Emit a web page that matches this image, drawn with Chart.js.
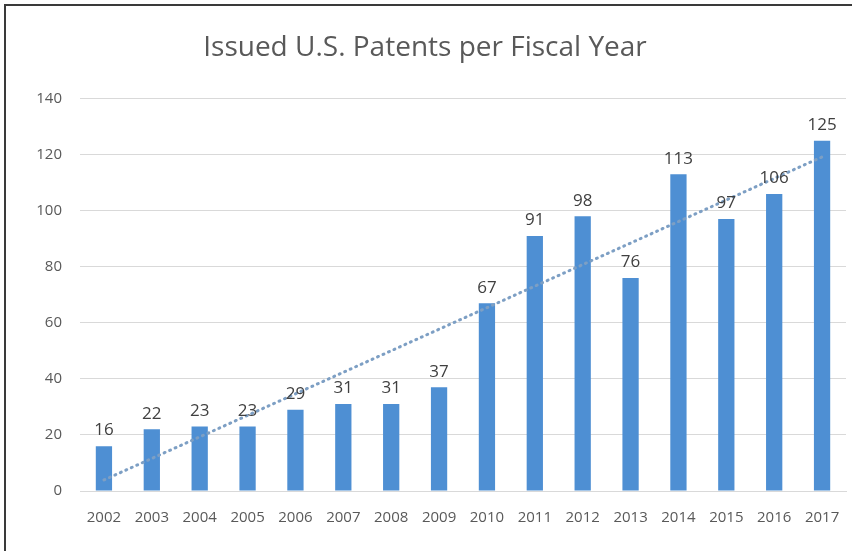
<!DOCTYPE html>
<html>
<head>
<meta charset="utf-8">
<title>Issued U.S. Patents per Fiscal Year</title>
<script src="https://cdn.jsdelivr.net/npm/chart.js@4/dist/chart.umd.min.js"></script>
<style>
  html, body { margin: 0; padding: 0; background: #fff; }
  #wrap { width: 852px; height: 551px; }
</style>
</head>
<body>
<div id="wrap"><canvas id="patentChart" width="852" height="551"></canvas></div>
<script>
const years = ['2002', '2003', '2004', '2005', '2006', '2007', '2008', '2009',
               '2010', '2011', '2012', '2013', '2014', '2015', '2016', '2017'];
const patents = [16, 22, 23, 23, 29, 31, 31, 37, 67, 91, 98, 76, 113, 97, 106, 125];
const yTicks = [0, 20, 40, 60, 80, 100, 120, 140];

// least squares trend line over the yearly counts
const linearTrend = (values) => {
    const n = values.length;
    const mx = (n - 1) / 2;
    const my = values.reduce((a, b) => a + b, 0) / n;
    let sxy = 0, sxx = 0;
    values.forEach((v, i) => {
        sxy += (i - mx) * (v - my);
        sxx += (i - mx) * (i - mx);
    });
    const slope = sxy / sxx;
    return values.map((_, i) => my + slope * (i - mx));
};

// value labels above each bar
const barLabels = {
    id: 'barLabels',
    afterDatasetsDraw(chart) {
        const ctx = chart.ctx;
        const meta = chart.getDatasetMeta(1);
        ctx.save();
        ctx.font = '17px "Open Sans", sans-serif';
        ctx.fillStyle = '#404040';
        ctx.textAlign = 'center';
        ctx.textBaseline = 'bottom';
        meta.data.forEach((bar, i) => {
            ctx.fillText(String(patents[i]), bar.x, bar.y - 7);
        });
        ctx.restore();
    }
};

// frame round the chart
const frame = {
    id: 'frame',
    afterDraw(chart) {
        const ctx = chart.ctx;
        ctx.save();
        ctx.strokeStyle = '#3a3a3a';
        ctx.lineWidth = 2;
        ctx.strokeRect(5, 5, 900, 700);
        ctx.restore();
    }
};

const initPatentChart = () => {
    const ctx = document.getElementById('patentChart').getContext('2d');
    const data = {
        labels: years,
        datasets: [{
            type: 'line',
            label: 'Linear trend',
            data: linearTrend(patents),
            borderColor: '#7d9fc4',
            borderWidth: 3,
            borderDash: [1, 5],
            borderCapStyle: 'round',
            pointRadius: 0,
            fill: false,
            order: 0
        }, {
            type: 'bar',
            label: 'Issued patents',
            data: patents,
            backgroundColor: '#4e8fd3',
            barPercentage: 0.34,
            categoryPercentage: 1.0,
            order: 1
        }]
    };

    const config = {
        data: data,
        options: {
            responsive: false,
            animation: false,
            layout: {
                padding: { left: 4, right: 6, top: 0, bottom: 14 }
            },
            plugins: {
                legend: { display: false },
                tooltip: { enabled: false },
                title: {
                    display: true,
                    text: 'Issued U.S. Patents per Fiscal Year',
                    color: '#595959',
                    font: { family: '"Open Sans", sans-serif', size: 28, weight: 'normal' },
                    padding: { top: 31, bottom: 34 }
                }
            },
            scales: {
                x: {
                    grid: { display: false },
                    border: { display: true, color: '#d9d9d9', width: 1 },
                    ticks: {
                        color: '#595959',
                        font: { family: '"Open Sans", sans-serif', size: 15 },
                        padding: 10,
                        maxRotation: 0,
                        autoSkip: false
                    }
                },
                y: {
                    min: 0,
                    max: 140,
                    afterBuildTicks: (axis) => {
                        axis.ticks = yTicks.map(v => ({ value: v }));
                    },
                    afterFit: (axis) => { axis.width = 76; },
                    grid: { color: '#d9d9d9', drawTicks: false },
                    border: { display: false },
                    ticks: {
                        color: '#595959',
                        font: { family: '"Open Sans", sans-serif', size: 15 },
                        padding: 18
                    }
                }
            }
        },
        plugins: [barLabels, frame]
    };

    return new Chart(ctx, config);
};

let patentChart = initPatentChart();
</script>
</body>
</html>
